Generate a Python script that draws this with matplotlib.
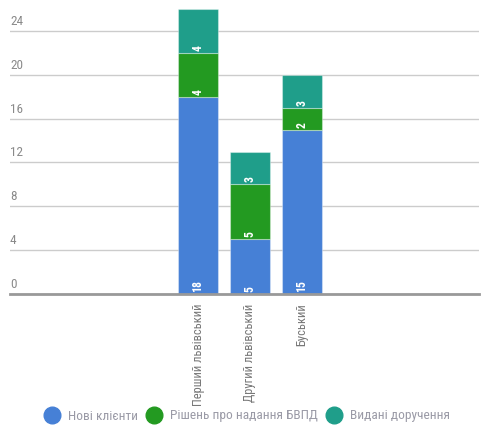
import matplotlib
matplotlib.use("Agg")
import matplotlib.pyplot as plt
from matplotlib import font_manager
from matplotlib.lines import Line2D
from matplotlib.transforms import blended_transform_factory, offset_copy

# вузький шрифт, якщо є
names = set(f.name for f in font_manager.fontManager.ttflist)
narrow = [n for n in ['Liberation Sans Narrow', 'DejaVu Sans Condensed',
                      'Roboto Condensed', 'Open Sans Condensed'] if n in names]
plt.rcParams['font.family'] = narrow + ['DejaVu Sans']
plt.rcParams['font.stretch'] = 'condensed'

# дані
CATEGORIES = ['Перший львівський', 'Другий львівський', 'Буський']
NEW_CLIENTS = [18, 5, 15]
DECISIONS = [4, 5, 2]
ORDERS = [4, 3, 3]
SERIES_NAMES = ['Нові клієнти', 'Рішень про надання БВПД', 'Видані доручення']
COLORS = ['#4680d6', '#239a21', '#1f9e8a']
Y_TICKS = [0, 4, 8, 12, 16, 20, 24]

W, H = 494, 437
fig = plt.figure(figsize=(W / 100, H / 100), dpi=100)
ax = fig.add_axes([10 / W, (H - 294) / H, (479 - 10) / W, (294 - 9) / H])

x = list(range(len(CATEGORIES)))
bottoms = [0] * len(CATEGORIES)
for vals, color in zip([NEW_CLIENTS, DECISIONS, ORDERS], COLORS):
    bars = ax.bar(x, vals, width=40 / 52, bottom=bottoms, color=color,
                  edgecolor=(1, 1, 1, 0.35), linewidth=0.8, zorder=3)
    for xi, b, v in zip(x, bottoms, vals):
        tr = offset_copy(ax.transData, fig=fig, x=0, y=2, units='dots')
        ax.text(xi, b, str(v), rotation=90, ha='center', va='bottom',
                color='white', fontsize=8.5, fontweight='bold', transform=tr,
                zorder=4)
    bottoms = [b + v for b, v in zip(bottoms, vals)]

ax.set_xlim(-(198 - 10) / 52, 2 + (479 - 302) / 52)
ax.set_ylim(0, (294 - 9) / 10.96)

for s in ['top', 'right', 'left']:
    ax.spines[s].set_visible(False)
ax.spines['bottom'].set_color('#999999')
ax.spines['bottom'].set_linewidth(2)
ax.spines['bottom'].set_zorder(5)

ax.set_yticks(Y_TICKS)
ax.set_yticklabels([])
ax.tick_params(axis='y', length=0)
ax.grid(axis='y', color='#cccccc', linewidth=1, zorder=0)

ytr = offset_copy(blended_transform_factory(ax.transAxes, ax.transData),
                  fig=fig, x=0, y=3, units='dots')
for t in Y_TICKS:
    ax.text(0, t, str(t), ha='left', va='bottom', fontsize=9.5,
            color='#8a8a8a', transform=ytr)

ax.set_xticks(x)
ax.set_xticklabels(CATEGORIES, rotation=90, ha='center', va='top',
                   fontsize=9, color='#777777')
ax.tick_params(axis='x', length=0, pad=7)

handles = [Line2D([], [], marker='o', linestyle='', markersize=12,
                  markerfacecolor=c, markeredgecolor=c) for c in COLORS]
leg = fig.legend(handles, SERIES_NAMES, loc='center', ncol=3,
                 bbox_to_anchor=(0.5, (H - 416) / H), frameon=False,
                 fontsize=9.6, handletextpad=0.6, columnspacing=0.6,
                 handlelength=1.2)
for t in leg.get_texts():
    t.set_color('#9a9aa6')

fig.savefig('out.png', dpi=100)
